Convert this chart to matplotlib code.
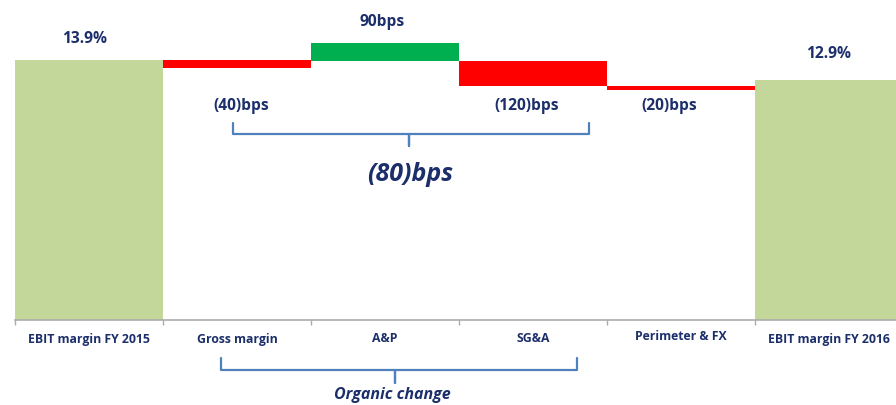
import matplotlib.pyplot as plt
from matplotlib.transforms import blended_transform_factory

# ---- data -------------------------------------------------------------
categories = ["EBIT margin FY 2015", "Gross margin", "A&P", "SG&A",
              "Perimeter & FX", "EBIT margin FY 2016"]
start_margin = 13.9          # %
end_margin = 12.9            # %
step_bps = [-40, 90, -120, -20]               # bridge steps in basis points
step_start = [13.9, 13.83, 13.83, 12.61]      # level each step is drawn from (%)
step_labels = ["(40)bps", "90bps", "(120)bps", "(20)bps"]
organic_total = "(80)bps"
start_label = "13.9%"
end_label = "12.9%"

# ---- style ------------------------------------------------------------
W, H, DPI = 896, 405, 100
NAVY = "#1C2F6B"
OLIVE = "#C4D79B"
RED = "#FF0000"
GREEN = "#00B050"
BRACE = "#4F81BD"
plt.rcParams["font.family"] = ["Open Sans", "DejaVu Sans"]

fig = plt.figure(figsize=(W / DPI, H / DPI), dpi=DPI)
ax_left, ax_right = 15, 903
ax_bottom_px = 319.5
ax = fig.add_axes([ax_left / W, (H - ax_bottom_px) / H,
                   (ax_right - ax_left) / W, ax_bottom_px / H])
ymin = 1.0
ymax = 13.9 + 60 / (259.5 / (13.9 - ymin))
ax.set_xlim(-0.5, len(categories) - 0.5)
ax.set_ylim(ymin, ymax)

# endpoints
ax.bar([0, len(categories) - 1], [start_margin, end_margin], width=1.0,
       color=OLIVE, edgecolor="none")

# bridge steps
for i, (d, s) in enumerate(zip(step_bps, step_start), start=1):
    h = d / 100.0
    ax.bar(i, h, bottom=s, width=1.0, color=GREEN if d > 0 else RED,
           edgecolor="none")

def fy(px):
    return 1 - px / H

trans = blended_transform_factory(ax.transData, fig.transFigure)

# value labels
lab_kw = dict(ha="center", va="center", fontsize=11.2, fontweight="bold",
              color=NAVY, transform=trans)
ax.text(-0.03, fy(39), start_label, **lab_kw)
ax.text(len(categories) - 1, fy(54), end_label, **lab_kw)
label_y = [106, 22, 106, 106]
label_dx = [0.03, -0.02, -0.04, -0.08]
for i, (t, yy, dx) in enumerate(zip(step_labels, label_y, label_dx), start=1):
    ax.text(i + dx, fy(yy), t, **lab_kw)

# axis styling
for sp in ["top", "right", "left"]:
    ax.spines[sp].set_visible(False)
ax.spines["bottom"].set_color("#ABABAB")
ax.spines["bottom"].set_linewidth(1.2)
ax.set_yticks([])
ax.set_xticks([i - 0.5 for i in range(len(categories))])
ax.set_xticklabels([])
ax.tick_params(axis="x", length=3.5, width=1, color="#ABABAB")
for i, c in enumerate(categories):
    yy = 336 if c == "Perimeter & FX" else 339
    ax.text(i, fy(yy), c, ha="center", va="center", fontsize=8.8,
            fontweight="bold", color=NAVY, transform=trans)

# braces
def brace(x0, x1, xm, y_end, y_line, y_tip):
    xs = [x0, x0, xm, xm, xm, x1, x1]
    ys = [y_end, y_line, y_line, y_tip, y_line, y_line, y_end]
    ax.plot(xs, [fy(v) for v in ys], color=BRACE, lw=1.6, transform=trans,
            clip_on=False, solid_joinstyle="round", solid_capstyle="round")

brace(0.97, 3.38, 2.16, 123, 134, 146)
brace(0.89, 3.30, 2.07, 358, 370, 383)

ax.text(2.17, fy(175), organic_total, ha="center", va="center", fontsize=18,
        fontweight="bold", fontstyle="italic", color=NAVY, transform=trans)
ax.text(2.05, fy(395), "Organic change", ha="center", va="center",
        fontsize=11.5, fontweight="bold", fontstyle="italic", color=NAVY,
        transform=trans)

fig.savefig("out.png", dpi=DPI)
